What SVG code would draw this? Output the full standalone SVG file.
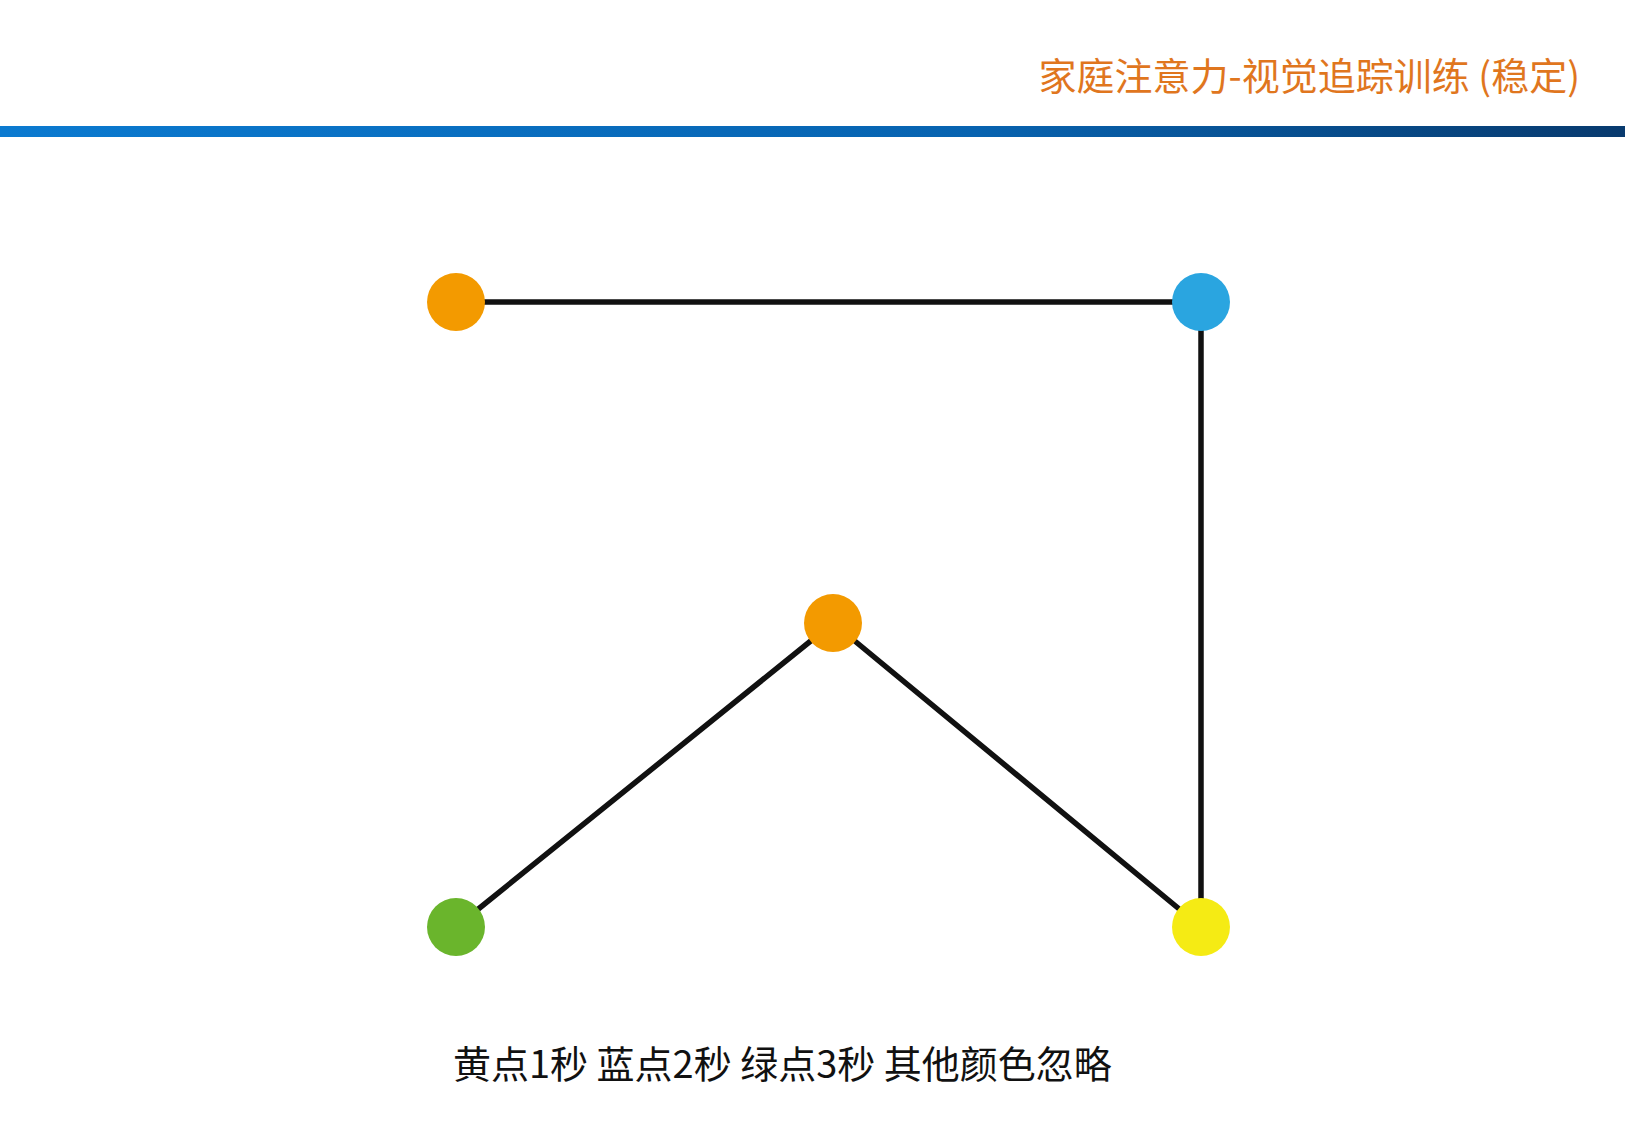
<svg xmlns="http://www.w3.org/2000/svg" width="1625" height="1125" viewBox="0 0 1625 1125">
<defs>
<linearGradient id="bar" x1="0" y1="0" x2="1" y2="0">
<stop offset="0" stop-color="#0b7ad0"/>
<stop offset="0.6" stop-color="#0763b0"/>
<stop offset="1" stop-color="#083a6e"/>
</linearGradient>
</defs>
<style>
.edge{stroke:#111;stroke-width:5.5;fill:none;stroke-linecap:round}
.txt{font-family:"Noto Sans CJK SC","Noto Sans",sans-serif}
</style>
<rect width="1625" height="1125" fill="#fff"/>
<text class="txt" x="1580" y="90" font-size="38" fill="#E0761E" text-anchor="end">家庭注意力-视觉追踪训练 (稳定)</text>
<rect x="0" y="126" width="1625" height="11" fill="url(#bar)"/>
<g id="connectors">
<line class="edge" x1="456" y1="302" x2="1201" y2="302"/>
<line class="edge" x1="1201" y1="302" x2="1201" y2="927"/>
<line class="edge" x1="833" y1="623" x2="456" y2="927"/>
<line class="edge" x1="833" y1="623" x2="1201" y2="927"/>
</g>
<g id="node-orange-top"><circle cx="456" cy="302" r="29" fill="#F39A00"/></g>
<g id="node-blue"><circle cx="1201" cy="302" r="29" fill="#2AA5E0"/></g>
<g id="node-orange-mid"><circle cx="833" cy="623" r="29" fill="#F39A00"/></g>
<g id="node-green"><circle cx="456" cy="927" r="29" fill="#6AB52C"/></g>
<g id="node-yellow"><circle cx="1201" cy="927" r="29" fill="#F5EB14"/></g>
<text class="txt" x="453" y="1078" font-size="38" fill="#111">黄点1秒 蓝点2秒 绿点3秒 其他颜色忽略</text>
</svg>
